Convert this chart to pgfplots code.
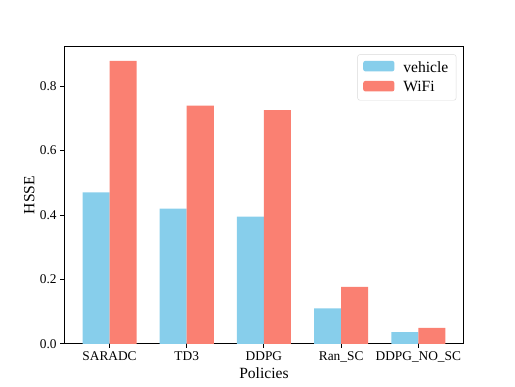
\documentclass[border=0pt]{standalone}
\usepackage{fontspec}
\setmainfont{Liberation Serif}
\usepackage{pgfplots}
\pgfplotsset{compat=1.18}
\definecolor{skyblue}{HTML}{87CEEB}
\definecolor{salmon}{HTML}{FA8072}
\begin{document}
\begin{tikzpicture}
  \useasboundingbox (-0.8in,-0.528in) rectangle (5.6in,4.272in);
  \begin{axis}[
      at={(0,0)}, anchor=south west,
      scale only axis,
      width=4.96in, height=3.696in,
      xmin=-0.585, xmax=4.585,
      ymin=0, ymax=0.924,
      axis line style={line width=0.8pt},
      xtick pos=bottom, ytick pos=left,
      tick style={line width=0.8pt, black},
      tick align=outside,
      major tick length=3.5pt,
      xtick={0,1,2,3,4},
      xticklabels={SARADC,TD3,DDPG,Ran\_SC,DDPG\_NO\_SC},
      ytick={0,0.2,0.4,0.6,0.8},
      yticklabel style={/pgf/number format/.cd, fixed, fixed zerofill, precision=1},
      /pgf/number format/assume math mode=true,
      ticklabel style={font=\fontsize{12}{14}\selectfont},
      xlabel={Policies}, ylabel={HSSE},
      label style={font=\fontsize{14}{16}\selectfont},
      xlabel style={yshift=2pt},
      ylabel style={yshift=-2pt},
      ybar, bar width=0.35,
      legend style={
        at={(0.982,0.973)}, anchor=north east,
        font=\fontsize{14}{16}\selectfont,
        draw=black!15, rounded corners=2pt, fill=white,
        row sep=3pt, column sep=6pt, inner xsep=5pt, inner ysep=4pt,
        legend cell align=left},
      legend image code/.code={\fill[#1] (0pt,-3.5pt) rectangle (28pt,6pt);},
    ]
    \addplot[fill=skyblue, draw=none, bar shift=-0.175] coordinates {
        (0,0.470) (1,0.420) (2,0.395) (3,0.110) (4,0.036)};
    \addlegendentry{vehicle}
    \addplot[fill=salmon, draw=none, bar shift=0.175] coordinates {
        (0,0.879) (1,0.740) (2,0.726) (3,0.177) (4,0.049)};
    \addlegendentry{WiFi}
  \end{axis}
\end{tikzpicture}
\end{document}
